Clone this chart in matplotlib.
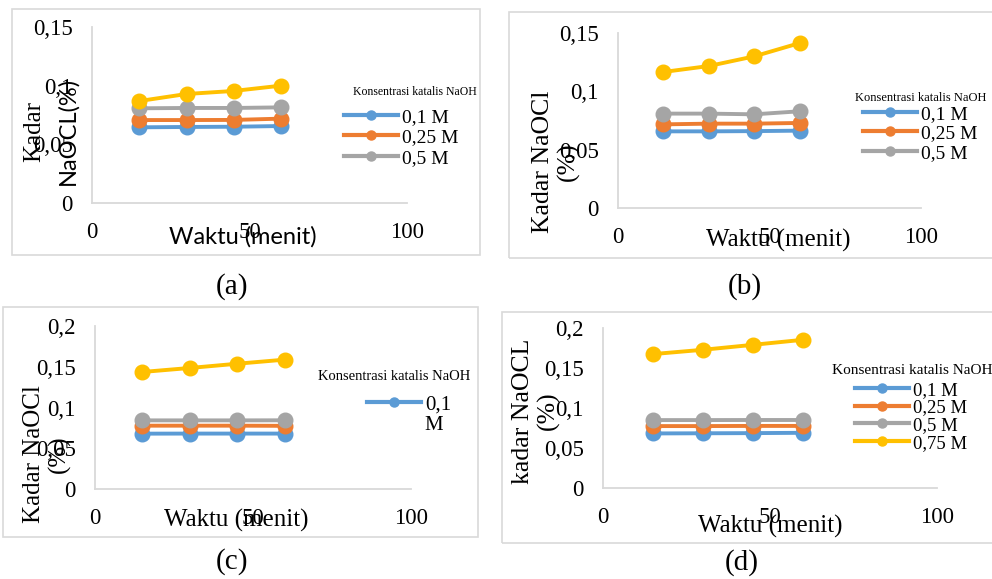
import matplotlib.pyplot as plt
from matplotlib.lines import Line2D
from matplotlib.patches import Rectangle

# waktu (menit) dan kadar NaOCl (%)
waktu = [15, 30, 45, 60]
seri = ['0,1 M', '0,25 M', '0,5 M', '0,75 M']
warna = ['#5B9BD5', '#ED7D31', '#A5A5A5', '#FFC000']

a_01 = [0.0645, 0.0648, 0.0650, 0.0656]
a_025 = [0.0707, 0.0707, 0.0708, 0.0719]
a_05 = [0.0807, 0.0810, 0.0810, 0.0815]
a_075 = [0.0869, 0.0929, 0.0955, 0.1000]

b_01 = [0.0657, 0.0657, 0.0659, 0.0663]
b_025 = [0.0717, 0.0723, 0.0723, 0.0729]
b_05 = [0.0809, 0.0809, 0.0803, 0.0829]
b_075 = [0.1166, 0.1217, 0.1300, 0.1414]

c_01 = [0.0679, 0.0680, 0.0680, 0.0680]
c_025 = [0.0777, 0.0777, 0.0777, 0.0775]
c_05 = [0.0842, 0.0842, 0.0842, 0.0843]
c_075 = [0.1436, 0.1485, 0.1537, 0.1587]

d_01 = [0.0682, 0.0684, 0.0686, 0.0690]
d_025 = [0.0774, 0.0774, 0.0776, 0.0776]
d_05 = [0.0849, 0.0849, 0.0850, 0.0850]
d_075 = [0.1674, 0.1728, 0.1790, 0.1853]

xticks = [0, 50, 100]
yticks_ab = [0, 0.05, 0.1, 0.15]
yticks_cd = [0, 0.05, 0.1, 0.15, 0.2]

plt.rcParams['font.family'] = ['Liberation Serif', 'DejaVu Sans']

W, H = 992, 579
fig = plt.figure(figsize=(W / 100, H / 100), dpi=100)


def fx(x):
    return x / W


def fy(y):
    return 1 - y / H


def label_koma(v):
    return '0' if v == 0 else str(v).replace('.', ',')


# kotak luar tiap grafik (seperti bingkai chart Excel)
for x0, y0, x1, y1 in [(12, 9, 480, 255), (509, 12, 1000, 258),
                       (3, 307, 478, 537), (502, 312, 1000, 543)]:
    fig.patches.append(Rectangle((fx(x0), fy(y1)), fx(x1 - x0), (y1 - y0) / H,
                                 transform=fig.transFigure, fill=False,
                                 edgecolor='#d9d9d9', lw=1.2))

panels = [
    # box (l, t, r, b) px, legend (x, y, fontsize, n, spacing), title (x, y, fs)
    dict(box=(92, 27, 407, 203), data=[a_01, a_025, a_05, a_075], yt=yticks_ab,
         leg=(344, 108, 14, 3, 0.15), title=(415, 92, 8.5)),
    dict(box=(618, 33, 921, 208), data=[b_01, b_025, b_05, b_075], yt=yticks_ab,
         leg=(863, 105, 14, 3, 0.1), title=(921, 98, 9)),
    dict(box=(95, 326, 411, 489), data=[c_01, c_025, c_05, c_075], yt=yticks_cd,
         leg=(367, 395, 15, 1, 0.1), title=(394, 376, 10.5)),
    dict(box=(603, 328, 937, 488), data=[d_01, d_025, d_05, d_075], yt=yticks_cd,
         leg=(855, 381.5, 13.5, 4, 0.03), title=(912, 371, 11)),
]

for p in panels:
    l, t, r, b = p['box']
    ax = fig.add_axes([fx(l), fy(b), fx(r - l), (b - t) / H])
    for vals, c in zip(p['data'], warna):
        ax.plot(waktu, vals, color=c, lw=2.8, marker='o', ms=10.5, clip_on=False)
    ax.set_xlim(0, 100)
    ax.set_ylim(0, p['yt'][-1])
    ax.set_xticks(xticks, labels=[label_koma(v) for v in xticks])
    ax.set_yticks(p['yt'], labels=[label_koma(v) for v in p['yt']])
    ax.tick_params(length=0, labelsize=16.5, pad=14)
    for s in ['top', 'right']:
        ax.spines[s].set_visible(False)
    for s in ['left', 'bottom']:
        ax.spines[s].set_color('#d9d9d9')
        ax.spines[s].set_linewidth(1.3)

    lx, ly, lfs, n, sp = p['leg']
    handles = [Line2D([], [], color=c, lw=3, marker='o', ms=6.5) for c in warna[:n]]
    labels = seri[:n]
    if n == 1:
        labels = ['0,1']
    px_fs = lfs * 100 / 72
    ax.legend(handles, labels, loc='upper left', bbox_to_anchor=(fx(lx), fy(ly)),
              bbox_transform=fig.transFigure, frameon=False, fontsize=lfs,
              handlelength=54 / px_fs, handletextpad=4 / px_fs, labelspacing=sp,
              borderpad=0, borderaxespad=0)
    tx, ty, tfs = p['title']
    fig.text(fx(tx), fy(ty), 'Konsentrasi katalis NaOH', fontsize=tfs,
             ha='center', va='center')

# legenda (c): label "0,1 M" terbungkus ke baris kedua
fig.text(fx(424), fy(425), 'M', fontsize=15, ha='left', va='center')

# judul sumbu
fig.text(fx(34), fy(131), 'Kadar', rotation=90, fontsize=18, ha='center', va='center')
fig.text(fx(68), fy(131), 'NaOCL(%)', rotation=90, fontsize=17, family='Lato',
         ha='center', va='center')
fig.text(fx(243), fy(237), 'Waktu (menit)', fontsize=17, family='Lato',
         ha='center', va='center')

fig.text(fx(556), fy(162), 'Kadar NaOCl\n(%)', rotation=90, fontsize=18.5,
         ha='center', va='center', multialignment='center')
fig.text(fx(778), fy(240), 'Waktu (menit)', fontsize=18, ha='center', va='center')

fig.text(fx(47), fy(454), 'Kadar NaOCl\n(%)', rotation=90, fontsize=18,
         ha='center', va='center', multialignment='center')
fig.text(fx(236), fy(520), 'Waktu (menit)', fontsize=18, ha='center', va='center')

fig.text(fx(536), fy(411), 'kadar NaOCL\n(%)', rotation=90, fontsize=18.5,
         ha='center', va='center', multialignment='center')
fig.text(fx(770), fy(526), 'Waktu (menit)', fontsize=18, ha='center', va='center')

# keterangan panel
for cap, x, y in [('(a)', 232, 287), ('(b)', 745, 287), ('(c)', 232, 562), ('(d)', 742, 563)]:
    fig.text(fx(x), fy(y), cap, fontsize=21, ha='center', va='center')

fig.savefig('out.png', dpi=100)
